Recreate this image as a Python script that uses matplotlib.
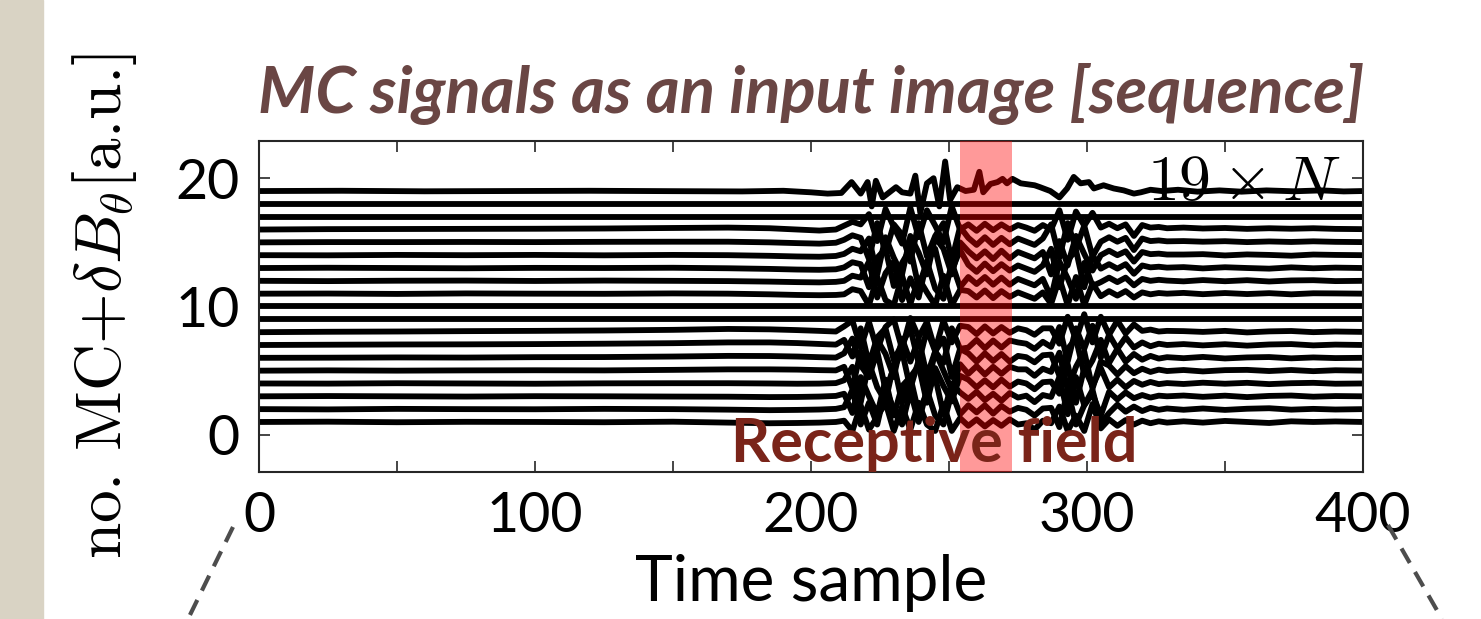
import numpy as np
import matplotlib
matplotlib.use('Agg')
import matplotlib.pyplot as plt
from matplotlib.lines import Line2D
from matplotlib.patches import Rectangle

# time knots shared by the MC traces (quiet part, active part, tail)
t_knots = [1, 25, 50, 75, 100, 125, 150, 170, 185, 195, 203, 209,
           212, 215, 218, 221, 224, 227, 230, 233, 236, 239, 242, 245, 248, 251, 254,
           257, 260, 263, 266, 269, 272, 275, 278, 281, 284, 287, 290, 293, 296, 299,
           302, 305, 308, 311, 314, 317, 320, 323, 326, 329,
           335, 342, 350, 358, 366, 374, 382, 390, 400]

# deltaB_theta of each coil, added to the coil number
mc01 = [0, 0.02, -0.02, 0.01, 0, -0.02, 0.02, -0.05, -0.1, -0.08, -0.05, 0,
        0.1, -0.7, 1.3, -0.6, 0.4, 1.5, -0.7, 1.2, -0.6, 1.5, -0.2, -0.7, 1.4, -0.7, 0.3,
        -0.3, 0.2, -0.35, 0.15, -0.3, 0.2, -0.2, -0.1, -0.6, 0.1, -0.1,
        1.2, -0.7, 0.5, -0.7, 1.4, -0.5,
        0.2, -0.3, 0.15, -0.2, 0.1, -0.1, 0.05, -0.05,
        0.05, -0.05, 0.08, 0, -0.08, 0.05, 0, 0.04, 0]
mc02 = [0, -0.02, 0.02, 0, -0.01, 0.02, 0, -0.04, -0.08, -0.06, -0.03, 0.02,
        0.15, 1.5, -1.2, 0.5, -1.2, 1.6, 0.0, -1.2, 1.4, -1.0, 1.5, -0.5, -1.2, 1.3, -0.4,
        0.3, -0.25, 0.3, -0.35, 0.25, -0.2, 0.1, -0.05, -0.5, 0.05, 0.1,
        -1.4, 1.5, -1.2, 0.3, 1.5, -1.1,
        -0.3, 0.35, -0.2, 0.2, -0.15, 0.1, -0.05, 0.05,
        -0.05, 0.05, -0.06, 0.03, 0.07, -0.04, 0.02, -0.03, 0]
mc03 = [0, 0.02, 0, -0.02, 0.01, 0, -0.02, -0.03, -0.06, -0.05, -0.02, 0.03,
        0.2, -1.3, 1.5, 0.0, -1.4, 1.3, -1.5, 0.8, 1.5, -1.3, 0.3, 1.5, -1.4, 1.0, 0.3,
        -0.2, 0.35, -0.3, 0.2, -0.35, 0.25, -0.1, 0.05, -0.45, 0.1, -0.05,
        1.5, -1.4, 1.5, -0.7, 0.2, -1.5,
        0.35, -0.25, 0.3, -0.15, 0.1, -0.1, 0.05, 0,
        0.06, -0.04, 0.05, -0.06, 0.03, 0.06, -0.03, 0.02, 0]
mc04 = [0, -0.01, 0.02, 0, -0.02, 0.01, 0.02, 0.02, 0.0, -0.02, -0.01, 0.03,
        0.25, 1.3, -1.5, 1.6, -0.3, -1.4, 1.5, -1.5, 0.5, 1.4, -1.5, 1.2, -0.2, -1.4, 0.6,
        0.3, -0.3, 0.25, -0.3, 0.3, -0.25, 0.15, 0.0, -0.45, 0.1, 0.15,
        -0.8, 1.5, -1.5, 1.2, -0.2, 1.2,
        -0.3, 0.3, -0.3, 0.2, -0.1, 0.12, -0.05, 0.03,
        -0.04, 0.06, -0.02, 0.05, -0.05, 0.02, 0.05, -0.02, 0]
mc05 = [0, 0.02, 0, 0.02, 0.03, 0.02, 0.06, 0.1, 0.1, 0.08, 0.04, 0.02,
        0.3, -1.4, 1.5, -0.5, 1.5, -1.5, 0.2, 1.5, -1.4, 0.8, -1.5, 1.5, 0.0, -1.5, 0.5,
        -0.25, 0.35, -0.3, 0.3, -0.25, 0.3, 0.1, 0.1, -0.4, 0.15, -0.1,
        1.4, -1.5, 0.3, 1.5, -1.4, 0.7,
        0.4, -0.3, 0.35, -0.2, 0.15, -0.1, 0.08, -0.03,
        0.05, -0.06, 0.04, 0.06, -0.03, 0.05, -0.04, 0.03, 0]
mc06 = [0, 0.01, 0.03, 0.02, 0.05, 0.06, 0.1, 0.15, 0.14, 0.1, 0.05, 0.02,
        0.35, 1.5, -0.6, -1.5, 1.4, 0.3, -1.5, 1.5, -0.3, 1.5, -1.4, 0.5, 1.5, -1.5, 0.7,
        0.35, -0.3, 0.35, -0.25, 0.3, -0.3, 0.15, 0.05, -0.35, 0.2, 0.25,
        -1.4, 0.7, 1.5, -1.3, -0.2, 1.4,
        -0.4, 0.7, -0.3, 0.3, -0.15, 0.15, -0.06, 0.05,
        -0.03, 0.07, -0.05, 0.03, 0.06, -0.04, 0.03, -0.02, 0]
mc07 = [0, 0.02, 0.04, 0.05, 0.07, 0.1, 0.14, 0.2, 0.2, 0.15, 0.08, 0.03,
        0.4, -0.9, 1.3, -1.5, 0.6, 1.3, -1.2, 0.1, 1.3, -1.4, 1.2, -0.5, -1.4, 1.3, -0.3,
        -0.2, 0.4, -0.25, 0.35, -0.2, 0.35, 0.2, 0.1, -0.3, 0.25, -0.15,
        1.4, -1.3, 1.3, -0.3, 1.5, -1.0,
        0.8, -0.3, 0.6, -0.2, 0.2, -0.1, 0.1, 0.0,
        0.07, -0.03, 0.06, -0.05, 0.04, 0.07, -0.03, 0.03, 0]
mc08 = [0, 0.03, 0.05, 0.08, 0.1, 0.13, 0.18, 0.25, 0.22, 0.16, 0.1, 0.05,
        0.45, 0.9, -1.2, 0.8, -1.4, 0.4, 1.0, -1.3, 1.1, -0.4, 0.8, -1.4, 0.9, -0.8, 0.5,
        0.4, -0.15, 0.45, -0.1, 0.4, -0.05, 0.3, 0.15, -0.2, 0.3, 0.3,
        -0.9, 1.2, -0.6, 1.4, -0.8, 1.2,
        -0.2, 0.9, -0.1, 0.6, 0.1, 0.2, 0.05, 0.1,
        0.08, 0.02, 0.1, -0.02, 0.06, 0.09, 0.0, 0.05, 0.02]
mc11 = [0, 0.01, -0.02, 0.02, 0, -0.01, 0.02, 0, -0.05, -0.1, -0.12, -0.1,
        -0.05, 0.35, 0.2,
        -0.9, 1.3, -0.5, -0.9, 1.4, -0.8, 1.2, 0.1, -0.9, 1.4, -0.9, 0.3,
        0.2, -0.3, 0.25, -0.35, 0.2, -0.25, 0.1, -0.15, -0.4, 0.1,
        -0.8, 1.2, -0.9, 1.3, -0.9, 0.8,
        -0.2, 0.2, -0.15, 0.2, -0.3, 0.1, -0.05, 0.05, 0.0,
        0.06, -0.04, 0.05, -0.03, 0.04, -0.05, 0.03, 0.02, 0]
mc12 = [0, -0.02, 0.01, 0.02, -0.01, 0.02, 0.0, -0.02, -0.06, -0.1, -0.12, -0.08,
        0.0, 0.4, 0.25,
        1.5, -1.3, 0.6, 1.5, -1.5, 0.2, -1.3, 1.5, -0.6, -1.4, 1.4, -0.5,
        0.3, -0.25, 0.3, -0.3, 0.25, -0.3, 0.15, -0.1, -0.35, 0.15,
        -1.3, 1.5, 0.2, -1.4, 1.4, -0.4,
        -0.1, 0.25, -0.1, 0.25, -0.35, 0.15, 0.0, 0.08, 0.02,
        -0.04, 0.06, -0.03, 0.05, -0.05, 0.03, 0.05, -0.02, 0]
mc13 = [0, 0.02, 0.0, -0.02, 0.01, 0.0, 0.02, -0.02, -0.07, -0.12, -0.14, -0.1,
        0.05, 0.45, 0.3,
        -1.5, 0.8, 1.5, -1.4, 0.4, 1.5, -1.5, 0.5, 1.5, -1.3, -0.2, 1.4,
        0.25, -0.3, 0.35, -0.25, 0.3, -0.2, 0.2, -0.05, -0.3, 0.2,
        1.5, -1.5, 0.6, 1.4, -1.5, 1.0,
        -0.05, 0.3, -0.05, 0.3, -0.45, 0.2, 0.05, 0.1, 0.03,
        0.07, -0.03, 0.06, 0.0, -0.05, 0.05, -0.02, 0.03, 0]
mc14 = [0, -0.01, 0.02, 0.0, 0.02, -0.01, 0.02, 0.0, -0.05, -0.1, -0.12, -0.06,
        0.1, 0.5, 0.3,
        1.3, -1.5, 1.4, -0.2, -1.5, 1.5, 0.2, -1.5, 1.4, 0.5, -1.5, 1.0,
        0.3, -0.25, 0.3, -0.3, 0.35, -0.25, 0.25, 0.0, -0.25, 0.25,
        -1.5, 1.1, -0.8, 1.5, 0.1, -1.2,
        0.0, 0.35, 0.0, 0.3, -0.5, 0.25, 0.08, 0.12, 0.05,
        0.05, 0.08, -0.02, 0.06, 0.02, -0.04, 0.05, 0.02, 0]
mc15 = [0, 0.02, 0.02, 0.03, 0.02, 0.04, 0.05, 0.05, 0.0, -0.06, -0.1, -0.03,
        0.2, 0.55, 0.35,
        -1.3, 1.5, -0.8, 1.4, 0.6, -1.5, 1.5, -1.1, 0.5, 1.5, -1.4, 1.2,
        0.35, -0.2, 0.4, -0.2, 0.35, -0.15, 0.3, 0.05, -0.2, 0.3,
        1.4, -1.2, 1.5, -0.5, 1.3, -1.1,
        0.05, 0.4, 0.05, 0.35, -0.6, 0.3, 0.1, 0.15, 0.08,
        0.1, 0.05, 0.09, 0.02, 0.07, 0.03, 0.08, 0.04, 0.02]
mc16 = [0, 0.03, 0.04, 0.05, 0.06, 0.08, 0.12, 0.15, 0.1, 0.0, -0.08, 0.0,
        0.3, 0.6, 0.4,
        1.2, -0.9, 1.6, 0.2, -1.1, 1.7, -0.6, 1.5, 0.3, -1.0, 1.8, 0.0,
        0.4, -0.1, 0.45, -0.05, 0.4, 0.0, 0.35, 0.15, -0.1, 0.35,
        0.0, 1.5, -0.8, 1.4, 0.3, 1.3,
        0.15, 0.45, 0.1, 0.4, -0.5, 0.35, 0.15, 0.2, 0.1,
        0.15, 0.08, 0.12, 0.05, 0.1, 0.06, 0.1, 0.05, 0.03]

# coils that stay flat
flat_mc = [9, 10, 17, 18]

# top coil (no. 19), its own knots
t_top = [1, 30, 60, 90, 120, 150, 175, 190, 200, 206, 211, 214.7, 218, 220.5, 222,
         223.5, 226, 228.4, 230.8, 233, 236, 237.8, 239.6, 242, 244.4, 246.5, 248.6,
         250.4, 253, 256, 259, 261, 262.4, 265, 267.6, 269.4, 271, 273, 276, 281, 283,
         286.7, 290, 292.8, 295.2, 297.7, 300.7, 302.5, 306, 309.7, 313.3, 317, 319.5,
         323, 327, 333, 340, 348, 356, 365, 375, 385, 393, 400]
mc19 = [19.0, 19.02, 18.98, 19.0, 19.02, 18.99, 18.97, 19.02, 18.9, 18.8, 18.85, 19.7,
        18.8, 19.7, 17.8, 19.8, 18.5, 18.9, 19.3, 18.9, 18.8, 20.2, 17.3, 19.6, 20.0,
        17.8, 21.3, 18.3, 19.3, 19.0, 19.1, 20.5, 18.9, 19.55, 19.7, 19.95, 19.6, 19.95,
        19.6, 19.45, 19.3, 19.0, 18.5, 19.2, 20.1, 19.6, 19.7, 19.2, 19.45, 19.2, 19.05,
        18.8, 18.9, 19.1, 19.0, 19.1, 18.95, 19.05, 18.95, 19.05, 18.98, 19.05, 18.97, 19.0]

rf_start, rf_end = 254, 273

plt.rcParams['mathtext.fontset'] = 'cm'

fig = plt.figure(figsize=(14.81, 6.19), dpi=100)
fig.patches.append(Rectangle((0, 0), 43/1481, 1, transform=fig.transFigure,
                             color='#d9d3c4', zorder=0))

ax = fig.add_axes([259/1481, 147/619, 1104/1481, 331/619])

lw = 4.2
signals = {1: mc01, 2: mc02, 3: mc03, 4: mc04, 5: mc05, 6: mc06, 7: mc07, 8: mc08,
           11: mc11, 12: mc12, 13: mc13, 14: mc14, 15: mc15, 16: mc16}
for k, dev in signals.items():
    ax.plot(t_knots, k + np.array(dev), '-', color='black', lw=lw, zorder=2)
for k in flat_mc:
    ax.plot([t_knots[0], t_knots[-1]], [k, k], '-', color='black', lw=lw, zorder=2)
ax.plot(t_top, mc19, '-', color='black', lw=lw, zorder=2)

# receptive field
ax.axvspan(rf_start, rf_end, color='red', alpha=0.4, lw=0, zorder=3)
ax.text(244.6, -2.15, 'Receptive field', fontsize=44, fontweight='bold',
        family='Lato', color='#7a2419', ha='center', va='baseline',
        zorder=4, clip_on=False)
ax.text(392, 18.3, r'$19\times N$', fontsize=46, ha='right', va='baseline', zorder=4)

ax.set_xlim(0, 400)
ax.set_ylim(-2.9, 22.9)
ax.set_xticks(np.arange(0, 401, 50))
ax.set_xticklabels(['0', '', '100', '', '200', '', '300', '', '400'])
ax.set_yticks([0, 10, 20])
ax.tick_params(direction='in', length=8, width=1.2, top=True, right=True,
               labelsize=40, pad=14, color='#262626')
for lab in ax.get_xticklabels() + ax.get_yticklabels():
    lab.set_family('Lato')
for s in ax.spines.values():
    s.set_linewidth(1.5)
    s.set_color('#262626')

ax.set_xlabel('Time sample', fontsize=46, family='Lato', labelpad=8)
ax.set_ylabel(r'no. MC+$\delta B_{\theta}$[a.u.]', fontsize=47, family='cmr10', labelpad=26)
ax.set_title('MC signals as an input image [sequence]', fontsize=47, family='Lato',
             fontweight='bold', style='italic', color='#6a4644', pad=20)

# zoom guide lines
fig.add_artist(Line2D([233/1481, 188/1481], [1 - 527/619, 0], color='#4d4d4d',
                      lw=3, ls=(0, (4, 2.5)), transform=fig.transFigure))
fig.add_artist(Line2D([1388/1481, 1442/1481], [1 - 525/619, 0], color='#4d4d4d',
                      lw=3, ls=(0, (4, 2.5)), transform=fig.transFigure))

fig.savefig('out.png', dpi=100)
